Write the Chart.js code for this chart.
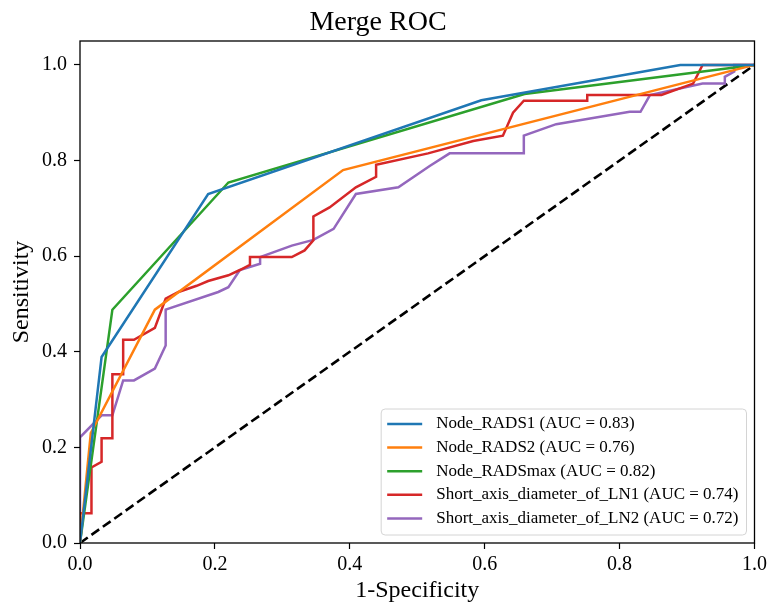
<!DOCTYPE html>
<html><head><meta charset="utf-8">
<script src="https://cdn.jsdelivr.net/npm/chart.js@4/dist/chart.umd.min.js"></script>
<style>html,body{margin:0;padding:0;background:#fff}#wrap{width:771px;height:607px}</style>
</head><body><div id="wrap"><canvas id="c" width="771" height="607"></canvas></div>
<script>
const titleText = 'Merge ROC';
const xTitle = '1-Specificity';
const yTitle = 'Sensitivity';
const xTickValues = [0, 0.2, 0.4, 0.6, 0.8, 1.0];
const yTickValues = [0, 0.2, 0.4, 0.6, 0.8, 1.0];
const seriesNames = [
  'Node_RADS1 (AUC = 0.83)',
  'Node_RADS2 (AUC = 0.76)',
  'Node_RADSmax (AUC = 0.82)',
  'Short_axis_diameter_of_LN1 (AUC = 0.74)',
  'Short_axis_diameter_of_LN2 (AUC = 0.72)'
];
const seriesColors = ['#1f77b4', '#ff7f0e', '#2ca02c', '#d62728', '#9467bd'];

const rads1Fpr = [0, 0.032, 0.19, 0.595, 0.89, 1];
const rads1Tpr = [0, 0.389, 0.73, 0.926, 1.0, 1.0];

const rads2Fpr = [0, 0.016, 0.111, 0.39, 1];
const rads2Tpr = [0, 0.23, 0.488, 0.78, 1];

const radsMaxFpr = [0, 0.048, 0.22, 0.659, 1];
const radsMaxTpr = [0, 0.488, 0.754, 0.939, 1];

const ln1Fpr = [0, 0, 0.017, 0.017, 0.032, 0.032, 0.048, 0.048, 0.064, 0.064, 0.080, 0.111, 0.127, 0.146, 0.173, 0.190, 0.220, 0.237, 0.252, 0.252, 0.314, 0.333, 0.346, 0.346, 0.370, 0.409, 0.439, 0.439, 0.516, 0.583, 0.627, 0.642, 0.658, 0.752, 0.752, 0.862, 0.909, 0.923, 1];
const ln1Tpr = [0, 0.062, 0.062, 0.158, 0.170, 0.219, 0.219, 0.353, 0.353, 0.425, 0.425, 0.450, 0.511, 0.525, 0.538, 0.548, 0.560, 0.571, 0.582, 0.598, 0.598, 0.612, 0.633, 0.683, 0.702, 0.744, 0.766, 0.791, 0.815, 0.841, 0.852, 0.900, 0.925, 0.925, 0.937, 0.937, 0.961, 1.0, 1.0];

const ln2Fpr = [0, 0, 0.032, 0.048, 0.064, 0.080, 0.111, 0.127, 0.127, 0.205, 0.220, 0.237, 0.267, 0.267, 0.314, 0.346, 0.376, 0.409, 0.472, 0.519, 0.548, 0.658, 0.658, 0.706, 0.815, 0.831, 0.845, 0.923, 0.956, 0.956, 0.970, 0.970, 1];
const ln2Tpr = [0, 0.221, 0.267, 0.267, 0.340, 0.340, 0.365, 0.413, 0.488, 0.525, 0.535, 0.571, 0.584, 0.598, 0.622, 0.634, 0.657, 0.730, 0.744, 0.789, 0.815, 0.815, 0.852, 0.876, 0.902, 0.902, 0.937, 0.961, 0.961, 0.975, 0.986, 1.0, 1.0];

const chanceFpr = [0, 1];
const chanceTpr = [0, 1];

const serif = "'Liberation Serif', 'Times New Roman', serif";
Chart.defaults.font.family = serif;
Chart.defaults.color = '#000';

function pts(xs, ys) { return xs.map((x, i) => ({x: x, y: ys[i]})); }

const curves = [
  [rads1Fpr, rads1Tpr], [rads2Fpr, rads2Tpr], [radsMaxFpr, radsMaxTpr], [ln1Fpr, ln1Tpr], [ln2Fpr, ln2Tpr]
];

const datasets = curves.map((c, i) => ({
  label: seriesNames[i],
  data: pts(c[0], c[1]),
  borderColor: seriesColors[i],
  backgroundColor: seriesColors[i],
  borderWidth: 2.5,
  pointRadius: 0,
  tension: 0,
  fill: false
}));
datasets.push({
  label: '',
  data: pts(chanceFpr, chanceTpr),
  borderColor: '#000',
  borderWidth: 2.6,
  borderDash: [9.5, 4.5],
  pointRadius: 0,
  tension: 0,
  fill: false
});

const framePlugin = {
  id: 'frame',
  afterDatasetsDraw(chart) {
    const {ctx, chartArea: a} = chart;
    ctx.save();
    ctx.strokeStyle = '#000';
    ctx.lineWidth = 1.3;
    ctx.strokeRect(a.left, a.top, a.right - a.left, a.bottom - a.top);
    ctx.restore();
  }
};

const legendPlugin = {
  id: 'boxLegend',
  afterDraw(chart) {
    const {ctx, chartArea: a} = chart;
    const items = chart.data.datasets.filter(d => d.label);
    ctx.save();
    ctx.font = '17px ' + serif;
    const maxW = Math.max(...items.map(d => ctx.measureText(d.label).width));
    const rowH = 23.6, padL = 6, handle = 35, gap = 14, padR = 8;
    const w = padL + handle + gap + maxW + padR;
    const h = 126;
    const right = a.right - 8, bottom = a.bottom - 8;
    const left = right - w, top = bottom - h;
    const r = 4;
    ctx.beginPath();
    ctx.moveTo(left + r, top);
    ctx.lineTo(right - r, top);
    ctx.arcTo(right, top, right, top + r, r);
    ctx.lineTo(right, bottom - r);
    ctx.arcTo(right, bottom, right - r, bottom, r);
    ctx.lineTo(left + r, bottom);
    ctx.arcTo(left, bottom, left, bottom - r, r);
    ctx.lineTo(left, top + r);
    ctx.arcTo(left, top, left + r, top, r);
    ctx.closePath();
    ctx.fillStyle = 'rgba(255,255,255,0.8)';
    ctx.fill();
    ctx.strokeStyle = '#d4d4d4';
    ctx.lineWidth = 1;
    ctx.stroke();
    items.forEach((d, i) => {
      const cy = top + 15 + i * rowH;
      ctx.beginPath();
      ctx.strokeStyle = d.borderColor;
      ctx.lineWidth = 2.5;
      ctx.moveTo(left + padL, cy);
      ctx.lineTo(left + padL + handle, cy);
      ctx.stroke();
      ctx.fillStyle = '#000';
      ctx.textBaseline = 'middle';
      ctx.textAlign = 'left';
      ctx.fillText(d.label, left + padL + handle + gap, cy);
    });
    ctx.restore();
  }
};

new Chart(document.getElementById('c'), {
  type: 'line',
  data: {datasets: datasets},
  options: {
    responsive: false,
    devicePixelRatio: 1,
    animation: false,
    parsing: true,
    layout: {padding: {left: 0, right: 15, top: 0, bottom: 0}},
    plugins: {
      legend: {display: false},
      tooltip: {enabled: false},
      title: {
        display: true,
        text: titleText,
        color: '#000',
        font: {family: serif, size: 28, weight: 'normal'},
        padding: {top: 6, bottom: 1.4}
      }
    },
    scales: {
      x: {
        type: 'linear',
        min: 0, max: 1,
        afterFit: s => { s.height = 64; },
        afterBuildTicks: s => { s.ticks = xTickValues.map(v => ({value: v})); },
        ticks: {
          includeBounds: false,
          callback: v => Number(v).toFixed(1),
          font: {family: serif, size: 20},
          color: '#000',
          padding: 4,
          maxRotation: 0
        },
        grid: {display: true, drawOnChartArea: false, drawTicks: true, tickLength: 6, color: '#000', tickWidth: 1.2},
        border: {display: false},
        title: {display: true, text: xTitle, color: '#000', font: {family: serif, size: 24}, padding: {top: 0, bottom: 2}}
      },
      y: {
        type: 'linear',
        min: 0, max: 1.05,
        afterFit: s => { s.width = 80; },
        afterBuildTicks: s => { s.ticks = yTickValues.map(v => ({value: v})); },
        ticks: {
          includeBounds: false,
          callback: v => Number(v).toFixed(1),
          font: {family: serif, size: 20},
          color: '#000',
          padding: 7
        },
        grid: {display: true, drawOnChartArea: false, drawTicks: true, tickLength: 6, color: '#000', tickWidth: 1.2},
        border: {display: false},
        title: {display: true, text: yTitle, color: '#000', font: {family: serif, size: 24}, padding: {top: 7, bottom: 0}}
      }
    }
  },
  plugins: [framePlugin, legendPlugin]
});
</script>
</body></html>
